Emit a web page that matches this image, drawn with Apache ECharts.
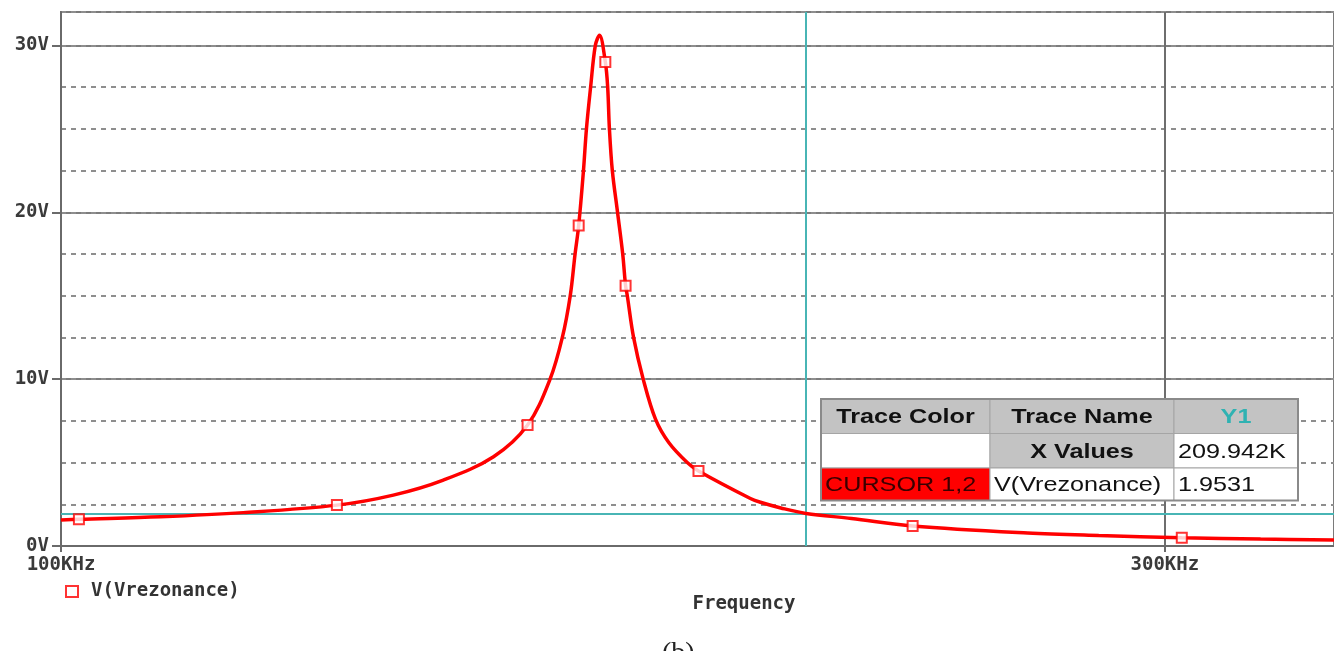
<!DOCTYPE html>
<html>
<head>
<meta charset="utf-8">
<title>V(Vrezonance)</title>
<script src="https://cdn.jsdelivr.net/npm/echarts@6.0.0/dist/echarts.min.js"></script>
<style>
  html, body { margin: 0; padding: 0; background: #fff; }
  #chart { width: 1334px; height: 651px; }
</style>
</head>
<body>
<div id="chart"></div>
<script>
// trace (frequency in KHz, voltage in V)
const freqKHz = [100, 101.8, 110.4, 119.9, 131.6, 139.2, 146.3, 153.8, 159.1, 162.7, 164.7, 166.0, 166.8, 167.4,
  168.2, 168.7, 169.4, 170.2, 170.9, 171.9, 172.3, 172.6, 173.1, 174.0, 174.9, 175.4, 175.7, 176.8, 178.5,
  180.7, 183.1, 186.5, 188.6, 198.6, 200.6, 204.7, 209.9, 219.6, 233.4, 261.7, 280.9, 305.1, 330, 355]
const voltage = [1.56, 1.60, 1.75, 2.0, 2.45, 3.05, 3.95, 5.35, 7.25, 10.0, 12.5, 15.0, 17.5, 19.2,
  22.5, 25.0, 27.5, 30.0, 30.6, 29.0, 27.5, 25.0, 22.5, 20.0, 17.5, 15.6, 15.0, 12.5, 10.0,
  7.6, 6.2, 5.0, 4.5, 2.85, 2.62, 2.28, 1.95, 1.65, 1.2, 0.78, 0.63, 0.5, 0.42, 0.36]

// trace markers
const markerFreq = [101.8, 131.6, 159.1, 167.4, 171.9, 175.4, 188.6, 233.4, 305.1]
const markerVolt = [1.60, 2.45, 7.25, 19.2, 29.0, 15.6, 4.5, 1.2, 0.5]

// axes
const xTicks = [100, 300]
const yTicks = [0, 10, 20, 30]

// cursor
const cursorX = 209.942
const cursorY = 1.9531

const traceName = 'V(Vrezonance)'

const monoFont = 'DejaVu Sans Mono'
const tableFont = 'Liberation Sans'

const lineData = freqKHz.map((f, i) => [f, voltage[i]])
const markerData = markerFreq.map((f, i) => [f, markerVolt[i]])

// cursor table drawn with graphic elements
const colX = [821, 990, 1174, 1298]
const rowY = [399, 433.5, 468, 500.5]
const cells = [
  [{ text: 'Trace Color', bg: '#c3c3c3', bold: true, center: true },
   { text: 'Trace Name', bg: '#c3c3c3', bold: true, center: true },
   { text: 'Y1', bg: '#c3c3c3', bold: true, center: true, color: '#2fb2b2' }],
  [{ text: '', bg: '#ffffff' },
   { text: 'X Values', bg: '#c3c3c3', bold: true, center: true },
   { text: cursorX.toFixed(3) + 'K', bg: '#ffffff' }],
  [{ text: 'CURSOR 1,2', bg: '#ff0000', color: '#3a0000' },
   { text: traceName, bg: '#ffffff' },
   { text: String(cursorY), bg: '#ffffff' }]
]

const tableGraphic = []
cells.forEach((row, r) => {
  row.forEach((c, k) => {
    const x0 = colX[k], x1 = colX[k + 1], y0 = rowY[r], y1 = rowY[r + 1]
    tableGraphic.push({
      type: 'rect',
      shape: { x: x0, y: y0, width: x1 - x0, height: y1 - y0 },
      style: { fill: c.bg, stroke: '#a5a5a5', lineWidth: 1 },
      z: 100
    })
    if (c.text) {
      tableGraphic.push({
        type: 'text',
        x: c.center ? (x0 + x1) / 2 : x0 + 4,
        y: (y0 + y1) / 2 + 1,
        scaleX: 1.2,
        z: 101,
        style: {
          text: c.text,
          fill: c.color || '#111',
          font: (c.bold ? 'bold ' : '') + '21px "' + tableFont + '"',
          textAlign: c.center ? 'center' : 'left',
          textVerticalAlign: 'middle',
          align: c.center ? 'center' : 'left',
          verticalAlign: 'middle'
        }
      })
    }
  })
})
tableGraphic.push({
  type: 'rect',
  shape: { x: colX[0], y: rowY[0], width: colX[3] - colX[0], height: rowY[3] - rowY[0] },
  style: { fill: null, stroke: '#8a8a8a', lineWidth: 2 },
  z: 102
})

const myChart = echarts.init(document.getElementById('chart'))

let options = {
  animation: false,
  backgroundColor: '#fff',
  grid: {
    left: 61,
    right: 0,
    top: 12,
    bottom: 105,
    show: true,
    borderColor: '#7a7a7a',
    borderWidth: 2
  },
  legend: {
    left: 60,
    top: 577,
    data: [traceName],
    itemWidth: 12,
    itemHeight: 11,
    textStyle: {
      fontFamily: monoFont,
      fontWeight: 'bold',
      fontSize: 19,
      color: '#333',
      padding: [0, 0, 0, 8]
    }
  },
  xAxis: {
    type: 'log',
    logBase: 10,
    min: 100,
    max: 355,
    axisLine: { lineStyle: { color: '#6a6a6a', width: 2 } },
    axisTick: { show: true, length: 6, customValues: xTicks, lineStyle: { color: '#6a6a6a', width: 2 } },
    axisLabel: {
      customValues: xTicks,
      formatter: v => Math.round(v) + 'KHz',
      fontFamily: monoFont,
      fontWeight: 'bold',
      fontSize: 19,
      color: '#3a3a3a',
      margin: 10
    },
    splitLine: { show: false },
    minorSplitLine: { show: false }
  },
  yAxis: [
    {
      type: 'value',
      min: 0,
      max: 32,
      interval: 10,
      axisLine: { show: true, lineStyle: { color: '#6a6a6a', width: 2 } },
      axisTick: { show: true, length: 9, customValues: yTicks, lineStyle: { color: '#6a6a6a', width: 2 } },
      axisLabel: {
        customValues: yTicks,
        formatter: v => v + 'V',
        fontFamily: monoFont,
        fontWeight: 'bold',
        fontSize: 19,
        color: '#3a3a3a',
        margin: 12
      },
      splitLine: { show: true, lineStyle: { color: '#7d7d7d', width: 2 } }
    },
    {
      type: 'value',
      min: 0,
      max: 32,
      interval: 2.5,
      position: 'left',
      axisLine: { show: false },
      axisTick: { show: false },
      axisLabel: { show: false },
      splitLine: { show: true, lineStyle: { color: '#8e8e8e', width: 2, type: [5, 5] } }
    }
  ],
  series: [
    {
      name: 'trace',
      type: 'line',
      data: lineData,
      showSymbol: false,
      smooth: 0.35,
      lineStyle: { color: '#ff0000', width: 3.5 },
      z: 5,
      markLine: {
        silent: true,
        symbol: ['none', 'none'],
        label: { show: false },
        z: 3,
        data: [
          { xAxis: 300, lineStyle: { color: '#6e6e6e', width: 2, type: 'solid' } },
          { xAxis: cursorX, lineStyle: { color: '#48b5b5', width: 2, type: 'solid' } },
          { yAxis: cursorY, lineStyle: { color: '#48b5b5', width: 2, type: 'solid' } }
        ]
      }
    },
    {
      name: traceName,
      type: 'scatter',
      data: markerData,
      symbol: 'emptyRect',
      symbolSize: 10,
      itemStyle: { color: '#ff0000', borderWidth: 2 },
      z: 6
    }
  ],
  graphic: [
    {
      type: 'text',
      x: 744,
      y: 604,
      style: {
        text: 'Frequency',
        fill: '#333',
        font: 'bold 19px "' + monoFont + '"',
        textAlign: 'center',
        align: 'center',
        textVerticalAlign: 'middle',
        verticalAlign: 'middle'
      }
    },
    {
      type: 'text',
      x: 662,
      y: 640,
      style: {
        text: '(b)',
        fill: '#222',
        font: '28px "Liberation Serif"'
      }
    }
  ].concat(tableGraphic)
}

myChart.setOption(options)
</script>
</body>
</html>
